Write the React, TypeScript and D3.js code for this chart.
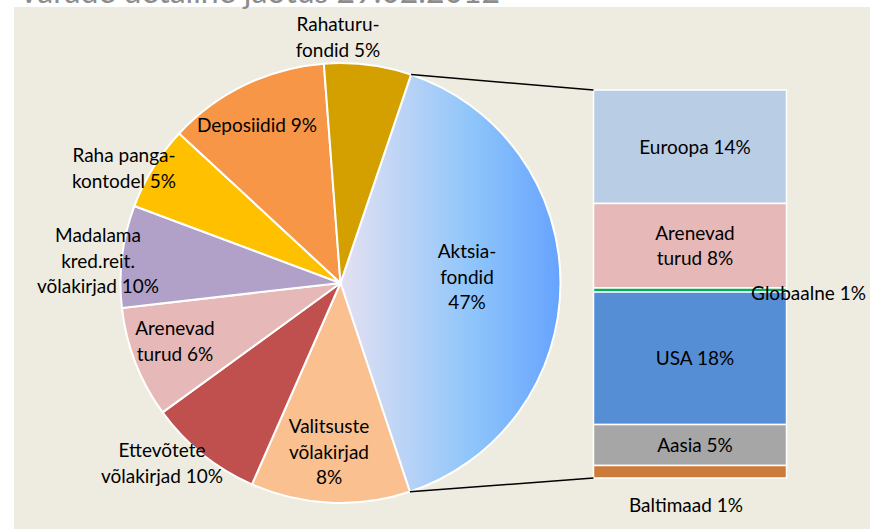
import React, { useEffect, useRef } from 'react';
import * as d3 from 'd3';

// pie part (shares as drawn, labels as written on the chart)
const pieCategories = ['Aktsiafondid', 'Valitsuste võlakirjad', 'Ettevõtete võlakirjad', 'Arenevad turud', 'Madalama kred.reit. võlakirjad', 'Raha pangakontodel', 'Deposiidid', 'Rahaturufondid'];
const pieShares = [39.7, 11.7, 8.4, 8.2, 7.5, 6.2, 11.9, 6.4];
const pieLabels = [
  ['Aktsia-', 'fondid', '47%'],
  ['Valitsuste', 'võlakirjad', '8%'],
  ['Ettevõtete', 'võlakirjad 10%'],
  ['Arenevad', 'turud 6%'],
  ['Madalama', 'kred.reit.', 'võlakirjad 10%'],
  ['Raha panga-', 'kontodel 5%'],
  ['Deposiidid 9%'],
  ['Rahaturu-', 'fondid 5%'],
];

// bar part = breakdown of Aktsiafondid
const barCategories = ['Euroopa', 'Arenevad turud', 'Globaalne', 'USA', 'Aasia', 'Baltimaad'];
const barShares = [11.61, 8.65, 0.41, 13.56, 4.19, 1.28];
const barLabels = [['Euroopa 14%'], ['Arenevad', 'turud 8%'], ['Globaalne 1%'], ['USA 18%'], ['Aasia 5%'], ['Baltimaad 1%']];

const title = 'Varade detailne jaotus 29.02.2012';

// styles / layout
const pieColors = ['url(#aktsia)', '#FAC090', '#C0504D', '#E6B8B7', '#B1A0C7', '#FFC000', '#F79646', '#D4A000'];
const barColors = ['#B9CDE5', '#E6B9B8', '#00B050', '#558ED5', '#A6A6A6', '#CD7B3A'];
// label anchors (centre x, first baseline) for the pie, Excel "best fit" placement
const pieLabelPos = [[467, 258], [329, 433], [162, 457], [175, 335], [98, 242], [124, 162], [257, 132], [338, 31]];
const font = 'Lato, "Open Sans", sans-serif';

function App() {
  const ref = useRef<SVGSVGElement>(null);

  useEffect(() => {
    const width = 870;
    const height = 529;
    const cx = 340.5, cy = 283, r = 220;
    const barX0 = 593.5, barX1 = 786.5, barTop = 90, barBottom = 478;
    const lineH = 25.5;
    const fs = 19;

    const svg = d3.select(ref.current);
    svg.selectAll('*').remove();
    svg.attr('width', width).attr('height', height);

    const defs = svg.append('defs');
    // gradient in the pie group's own coordinates (origin = pie centre)
    const grad = defs.append('linearGradient')
      .attr('id', 'aktsia')
      .attr('gradientUnits', 'userSpaceOnUse')
      .attr('x1', 0).attr('y1', 0).attr('x2', r).attr('y2', 0);
    grad.append('stop').attr('offset', '0%').attr('stop-color', '#E4E1F2');
    grad.append('stop').attr('offset', '60%').attr('stop-color', '#8EC5FA');
    grad.append('stop').attr('offset', '100%').attr('stop-color', '#66A3FF');

    svg.append('rect').attr('width', width).attr('height', height).attr('fill', '#ffffff');
    svg.append('rect').attr('x', 14).attr('y', 7).attr('width', width - 14).attr('height', height - 7).attr('fill', '#EEECE1');

    svg.append('text')
      .attr('x', 18).attr('y', 3)
      .attr('font-family', font).attr('font-size', 32)
      .attr('fill', '#8C8C8C')
      .text(title);

    // pie
    const a0 = (18.7 * Math.PI) / 180;
    const pie = d3.pie<number>().sort(null).startAngle(a0).endAngle(a0 + 2 * Math.PI);
    const arcs = pie(pieShares);
    const arc = d3.arc<d3.PieArcDatum<number>>().innerRadius(0).outerRadius(r);

    const g = svg.append('g').attr('transform', `translate(${cx},${cy})`);
    g.selectAll('path.slice')
      .data(arcs)
      .enter().append('path')
      .attr('class', 'slice')
      .attr('d', arc)
      .attr('fill', (d, i) => pieColors[i])
      .attr('stroke', '#ffffff')
      .attr('stroke-width', 2)
      .attr('stroke-linejoin', 'round')
      .append('title').text((d, i) => pieCategories[i]);

    // bar
    const total = d3.sum(barShares);
    const y = d3.scaleLinear().domain([0, total]).range([barTop, barBottom]);
    const cum = barShares.map((v, i) => d3.sum(barShares.slice(0, i)));

    svg.selectAll('rect.seg')
      .data(barShares)
      .enter().append('rect')
      .attr('class', 'seg')
      .attr('x', barX0)
      .attr('y', (d, i) => y(cum[i]))
      .attr('width', barX1 - barX0)
      .attr('height', (d, i) => y(cum[i] + d) - y(cum[i]))
      .attr('fill', (d, i) => barColors[i])
      .attr('stroke', '#ffffff')
      .attr('stroke-width', 1.5)
      .append('title').text((d, i) => barCategories[i]);

    // connector lines
    const aktsia = arcs[0];
    const p0 = [cx + r * Math.sin(aktsia.startAngle), cy - r * Math.cos(aktsia.startAngle)];
    const p1 = [cx + r * Math.sin(aktsia.endAngle), cy - r * Math.cos(aktsia.endAngle)];
    svg.append('line').attr('x1', p0[0]).attr('y1', p0[1]).attr('x2', barX0).attr('y2', barTop)
      .attr('stroke', '#000000').attr('stroke-width', 1.5);
    svg.append('line').attr('x1', p1[0]).attr('y1', p1[1]).attr('x2', barX0).attr('y2', barBottom)
      .attr('stroke', '#000000').attr('stroke-width', 1.5);

    // labels
    const addLabel = (lines: string[], x: number, y0: number) => {
      const t = svg.append('text')
        .attr('font-family', font).attr('font-size', fs)
        .attr('fill', '#000000').attr('text-anchor', 'middle');
      lines.forEach((l, k) => {
        t.append('tspan').attr('x', x).attr('y', y0 + k * lineH).text(l);
      });
    };

    pieLabels.forEach((lines, i) => addLabel(lines, pieLabelPos[i][0], pieLabelPos[i][1]));

    const barMid = (barX0 + barX1) / 2 + 5;
    barLabels.forEach((lines, i) => {
      const mid = y(cum[i] + barShares[i] / 2);
      const first = mid + 7 - ((lines.length - 1) * lineH) / 2;
      if (barCategories[i] === 'Globaalne') {
        addLabel(lines, 808.5, mid + 10);
      } else if (barCategories[i] === 'Baltimaad') {
        addLabel(lines, 686, barBottom + 34);
      } else {
        addLabel(lines, barMid, first);
      }
    });
  }, []);

  return (
    <svg ref={ref} style={{ position: 'absolute', left: 0, top: 0, display: 'block' }}></svg>
  );
}

export default App;
